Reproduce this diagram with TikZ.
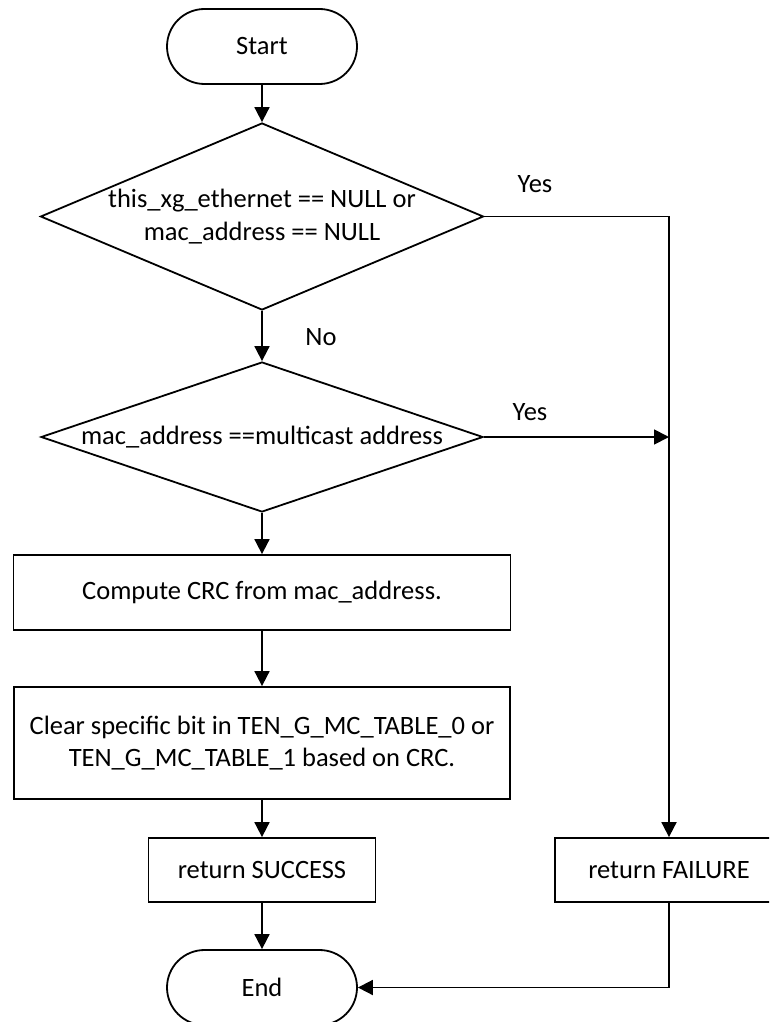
\documentclass[tikz,border=0pt]{standalone}
\usepackage{fontspec}
\setmainfont{Carlito}
\usetikzlibrary{shapes.geometric,arrows.meta}
\begin{document}
\begin{tikzpicture}[x=1pt,y=-1pt,
  font=\fontsize{26.5}{32.5}\selectfont,
  line width=1.8pt,
  terminal/.style={draw,rectangle,rounded corners=37.5pt,minimum width=190pt,minimum height=75pt,inner sep=0pt},
  decision/.style={draw,diamond,inner sep=0pt},
  process/.style={draw,rectangle,inner sep=0pt,align=center},
  flow/.style={-{Triangle[length=15pt,width=15pt]}},
  tag/.style={inner sep=0pt,align=center}]
\useasboundingbox (0,0) rectangle (769,1022);
\clip (0,0) rectangle (769,1022);

% main column
\node[terminal] (start) at (262,46.5) {Start};
\node[decision,minimum width=443pt,minimum height=187pt,
  label={[tag]center:this\_xg\_ethernet == NULL or\\mac\_address == NULL}] (d1) at (262,216.5) {};
\node[decision,minimum width=442pt,minimum height=150pt,
  label={[tag]center:mac\_address ==multicast address}] (d2) at (262,437) {};
\node[process,minimum width=497pt,minimum height=75pt] (crc) at (262,592.5) {Compute CRC from mac\_address.};
\node[process,minimum width=496pt,minimum height=112pt] (clr) at (262,743)
  {Clear specific bit in TEN\_G\_MC\_TABLE\_0 or\\TEN\_G\_MC\_TABLE\_1 based on CRC.};
\node[process,minimum width=227pt,minimum height=64pt] (ok) at (262,870) {return SUCCESS};
\node[terminal] (end) at (262,987.5) {End};

% failure branch
\node[process,minimum width=228pt,minimum height=64pt] (fail) at (669,870) {return FAILURE};

% branch labels
\node[tag] (yes1) at (535,184) {Yes};
\node[tag] (no) at (321,337) {No};
\node[tag] (yes2) at (530,412) {Yes};

% connectors
\draw[flow] (start) -- (d1);
\draw[flow] (d1.south) -- (d2.north);
\draw[flow] (d1.east) -| (fail.north);
\coordinate (join) at (fail.north |- d2.east);
\draw[flow] (d2.east) -- (join);
\draw[flow] (d2.south) -- (crc.north);
\draw[flow] (crc) -- (clr);
\draw[flow] (clr) -- (ok);
\draw[flow] (ok) -- (end);
\draw[flow] (fail.south) |- (end.east);
\end{tikzpicture}
\end{document}
